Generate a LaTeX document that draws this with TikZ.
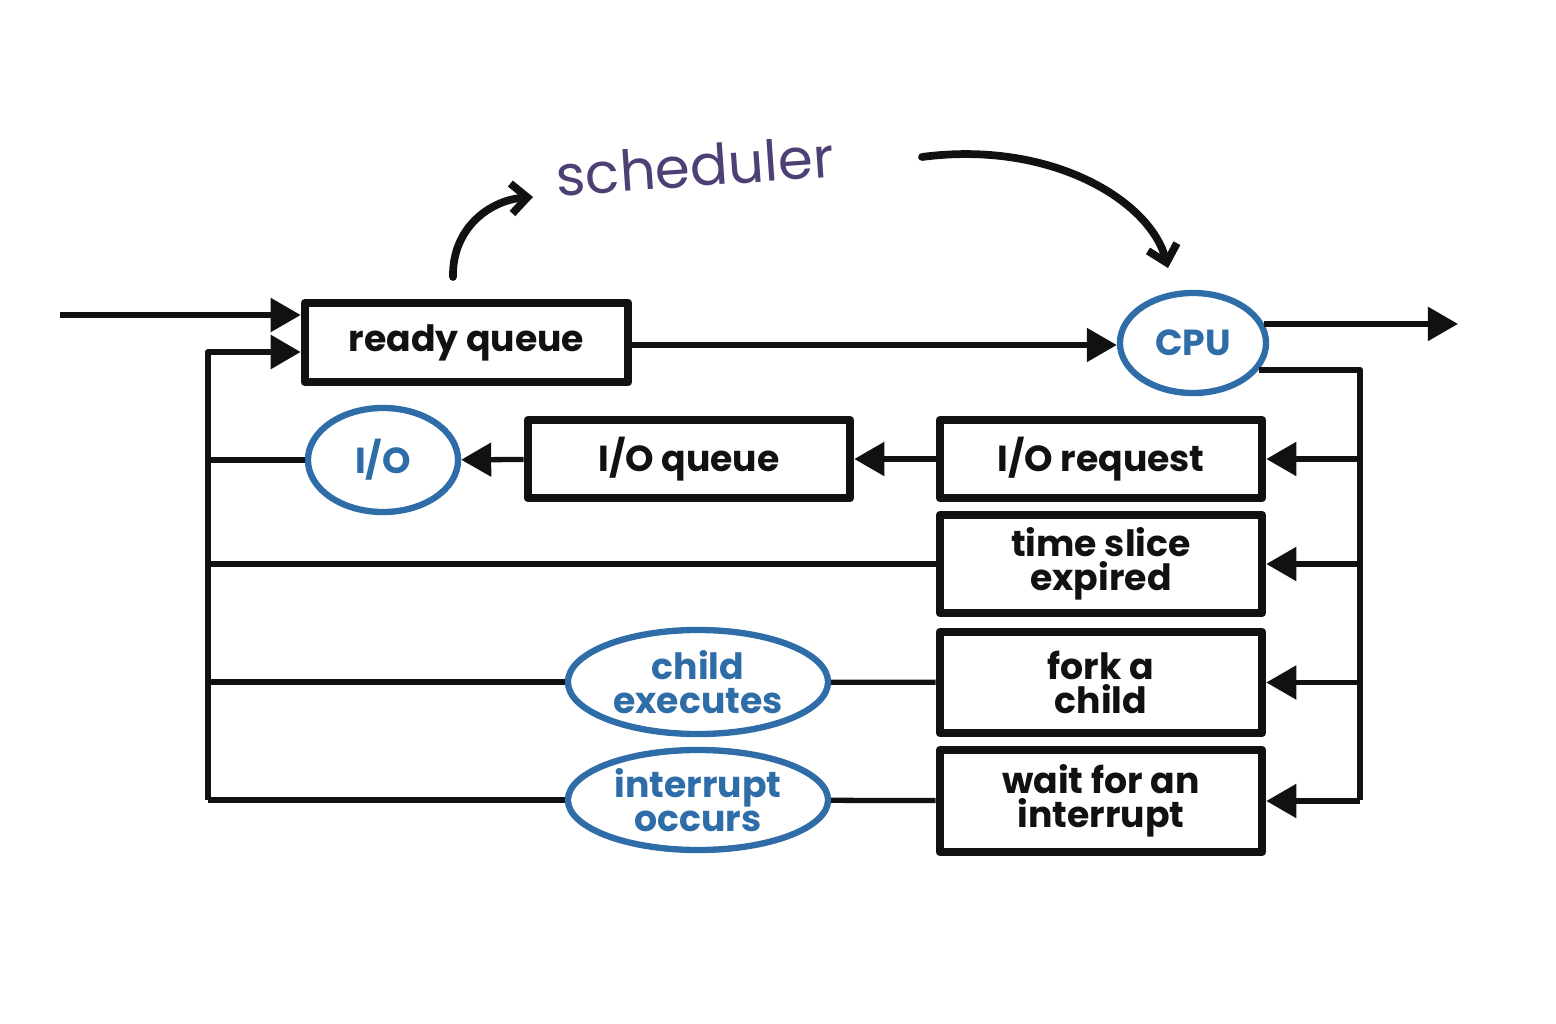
\documentclass[tikz,border=0pt]{standalone}
\usepackage{fontspec}
\setmainfont{Poppins}
\usetikzlibrary{arrows.meta,shapes.geometric}
\definecolor{cblue}{HTML}{2F6DA8}
\definecolor{cpurple}{HTML}{4E3F74}
\definecolor{cink}{HTML}{111111}
\begin{document}
\begin{tikzpicture}[x=0.01cm,y=-0.01cm,
  line join=round,
  conn/.style={draw=cink,line width=1.5pt},
  arr/.style={conn,-{Triangle[length=0.3cm,width=0.33cm]}},
  harr/.style={draw=cink,line width=2.2pt,line cap=round,-{Straight Barb[length=0.16cm,width=0.3cm,line width=2.2pt]}},
  boxn/.style={draw=cink,line width=2.4pt,rectangle,minimum width=3.22cm,inner sep=0pt,
    font=\fontsize{10.3}{9.6}\selectfont\bfseries,text=cink,align=center},
  ell/.style={draw=cblue,line width=1.8pt,ellipse,inner sep=0pt,
    font=\fontsize{10.3}{9.6}\selectfont\bfseries,text=cblue,align=center}]
\useasboundingbox (0,0) rectangle (1556,1024);
\fill[white] (0,0) rectangle (1556,1024);

% nodes
\node[boxn,minimum width=3.23cm,minimum height=0.79cm] (rq) at (466.5,342.5) {ready queue};
\node[ell,minimum width=1.46cm,minimum height=1.0cm] (cpu) at (1193,343) {CPU};
\node[boxn,minimum height=0.78cm] (iorq) at (1101,459) {I/O request};
\node[boxn,minimum height=0.98cm] (ts) at (1101,564) {time slice\\expired};
\node[boxn,minimum height=1.01cm] (fork) at (1101,682.5) {fork a\\child};
\node[boxn,minimum height=1.02cm] (wait) at (1101,801) {wait for an\\interrupt};
\node[boxn,minimum height=0.78cm] (ioq) at (689,459) {I/O queue};
\node[ell,minimum width=1.5cm,minimum height=1.04cm] (io) at (383,460) {I/O};
\node[ell,minimum width=2.6cm,minimum height=1.04cm] (child) at (698,682) {child\\executes};
\node[ell,minimum width=2.6cm,minimum height=1.0cm] (intr) at (698,800) {interrupt\\occurs};

\node[text=cpurple,font=\fontsize{16}{16}\selectfont,rotate=4] (sched) at (695,166) {scheduler};

% coordinates
\coordinate (src) at (60,315);
\coordinate (dst) at (1458,325);
\coordinate (lt) at (208,352);
\coordinate (lb) at (208,800);
\coordinate (rb) at (1360,800);
\coordinate (s1a) at (453,277);
\coordinate (s1b) at (533,197);
\coordinate (s2a) at (922,157);
\coordinate (s2b) at (1168,268);

% connectors
\draw[arr] (src) -- (src -| rq.west);
\draw[arr] (rq.east |- 0,345) -- (cpu.west |- 0,345);
\draw[arr] (cpu.15) -- (cpu.15 -| dst);
\draw[conn,line width=1.7pt] (cpu.-22) -| (rb);
\draw[arr] (iorq.east -| rb) -- (iorq.east);
\draw[arr] (ts.east -| rb) -- (ts.east);
\draw[arr] (fork.east -| rb) -- (fork.east);
\draw[arr] (wait.east -| rb) -- (wait.east);
\draw[arr] (iorq) -- (ioq);
\draw[arr] (ioq) -- (io);
\draw[conn] (io.west) -- (io.west -| lb);
\draw[conn] (ts.west) -- (ts.west -| lb);
\draw[conn] (fork) -- (child);
\draw[conn] (child.west) -- (child.west -| lb);
\draw[conn] (wait) -- (intr);
\draw[conn] (intr.west) -- (lb);
\draw[arr,line width=1.7pt] (lb) -- (lt) -- (lt -| rq.west);

% scheduler arrows
\draw[harr] (s1a) .. controls (452,228) and (490,200) .. (s1b);
\draw[harr] (s2a) .. controls (1050,140) and (1150,200) .. (s2b);
\end{tikzpicture}
\end{document}
